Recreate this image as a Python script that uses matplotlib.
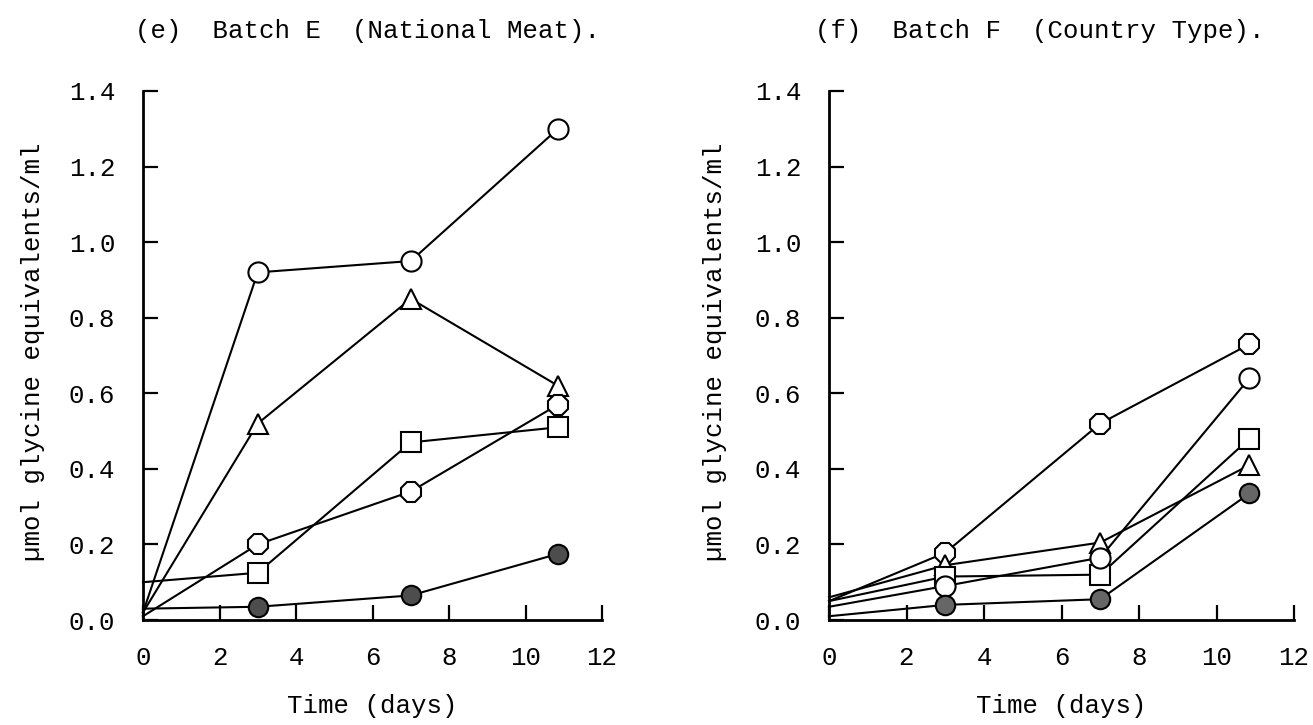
import matplotlib
matplotlib.use("Agg")
import matplotlib.pyplot as plt

plt.rcParams['font.family'] = ['Liberation Mono', 'DejaVu Sans Mono']

days = [0, 3, 7, 10.85]

# batch E (national meat)
e_circle = [0.02, 0.92, 0.95, 1.30]
e_triangle = [0.02, 0.52, 0.85, 0.62]
e_square = [0.10, 0.125, 0.47, 0.51]
e_octagon = [0.01, 0.20, 0.34, 0.57]
e_dotted = [0.03, 0.035, 0.065, 0.175]

# batch F (country type)
f_octagon = [0.05, 0.178, 0.52, 0.73]
f_triangle = [0.06, 0.145, 0.205, 0.41]
f_square = [0.05, 0.115, 0.12, 0.48]
f_circle = [0.035, 0.09, 0.165, 0.64]
f_dotted = [0.01, 0.04, 0.055, 0.335]

titles = ['(e)  Batch E  (National Meat).', '(f)  Batch F  (Country Type).']
ylabel = '\u00b5mol glycine equivalents/ml'
xlabel = 'Time (days)'
yticks = [0.0, 0.2, 0.4, 0.6, 0.8, 1.0, 1.2, 1.4]
xticks = [0, 2, 4, 6, 8, 10, 12]

W, H = 1313, 725
fs = 18.5

fig = plt.figure(figsize=(W / 100, H / 100), dpi=100)
ax1 = fig.add_axes([143 / W, 105 / H, 459 / W, 529 / H])
ax2 = fig.add_axes([829 / W, 105 / H, 465 / W, 529 / H])


def draw(ax, series):
    for y, m, ms, fc in series:
        ax.plot(days, y, color='black', lw=1.5, marker=m, markersize=ms,
                markevery=[1, 2, 3], markerfacecolor=fc,
                markeredgecolor='black', markeredgewidth=1.5, clip_on=False)
    ax.set_xlim(0, 12)
    ax.set_ylim(0, 1.4)
    ax.set_xticks(xticks)
    ax.set_yticks(yticks)
    ax.set_yticklabels(['%.1f' % v for v in yticks])
    ax.tick_params(axis='x', direction='in', length=11, width=1.6,
                   labelsize=fs, pad=19)
    ax.tick_params(axis='y', direction='in', length=11, width=1.6,
                   labelsize=fs, pad=20)
    for s in ['top', 'right']:
        ax.spines[s].set_visible(False)
    for s in ['left', 'bottom']:
        ax.spines[s].set_linewidth(2)
    ax.set_xlabel(xlabel, fontsize=fs, labelpad=17)


draw(ax1, [(e_circle, 'o', 14.5, 'white'), (e_triangle, '^', 15, 'white'),
           (e_square, 's', 14, 'white'), (e_octagon, '8', 15, 'white'),
           (e_dotted, 'o', 14, '0.3')])
draw(ax2, [(f_octagon, '8', 15, 'white'), (f_triangle, '^', 15, 'white'),
           (f_square, 's', 14, 'white'), (f_circle, 'o', 14.5, 'white'),
           (f_dotted, 'o', 14, '0.4')])

fig.text(135 / W, 1 - 31 / H, titles[0], fontsize=fs, va='center', ha='left')
fig.text(815 / W, 1 - 31 / H, titles[1], fontsize=fs, va='center', ha='left')
fig.text(33 / W, 1 - 352 / H, ylabel, fontsize=fs, rotation=90,
         va='center', ha='center')
fig.text(715 / W, 1 - 352 / H, ylabel, fontsize=fs, rotation=90,
         va='center', ha='center')

fig.savefig('out.png', dpi=100)
